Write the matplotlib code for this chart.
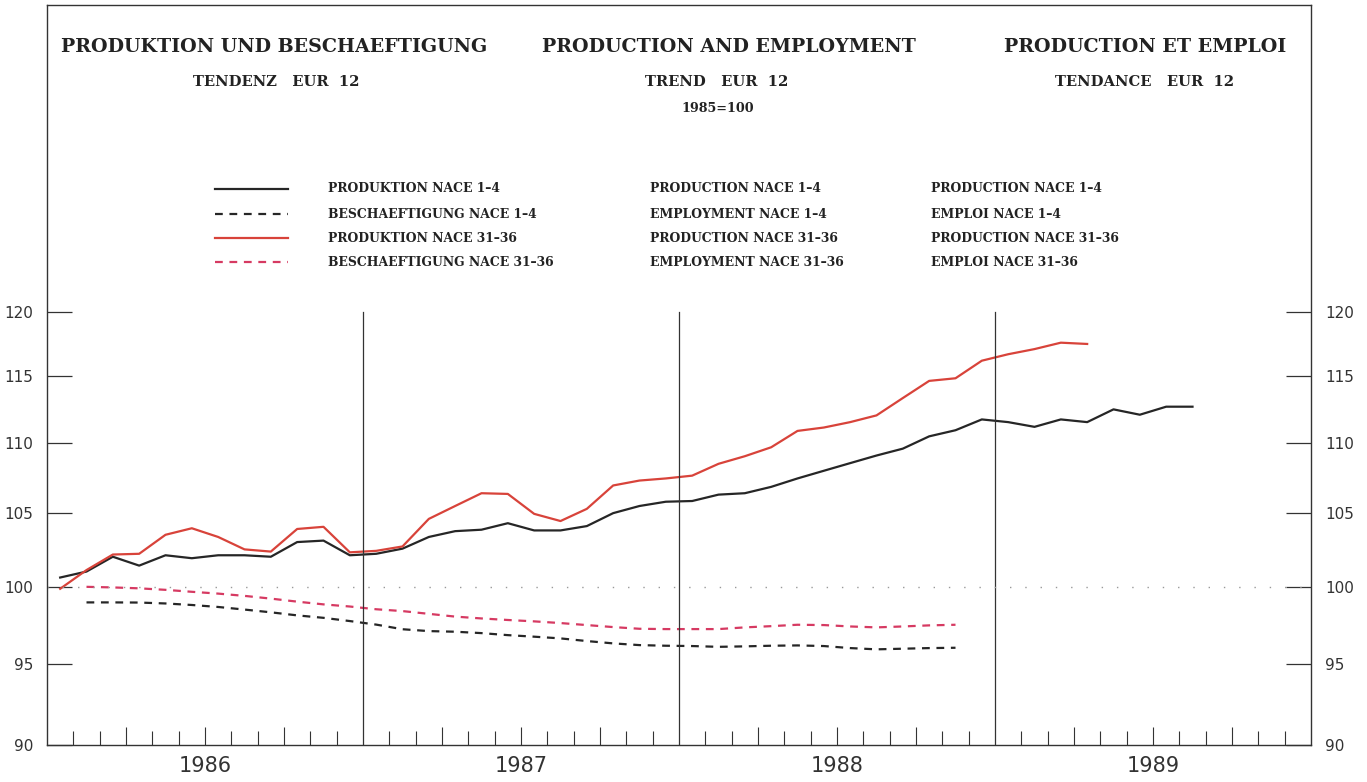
import numpy as np
import matplotlib
matplotlib.use("Agg")
import matplotlib.pyplot as plt
from matplotlib.ticker import FixedLocator, NullLocator

# months counted from Jan 1986 (0) ; values are monthly trend indices 1985=100
years = ["1986", "1987", "1988", "1989"]

prod_1_4_start = 0
prod_1_4 = [100.6, 101.0, 102.0, 101.4, 102.1, 101.9, 102.1, 102.1, 102.0, 103.0, 103.1, 102.1,
            102.2, 102.55, 103.35, 103.75, 103.85, 104.3, 103.8, 103.8, 104.1, 105.0, 105.5, 105.8,
            105.85, 106.3, 106.4, 106.85, 107.45, 108.0, 108.55, 109.1, 109.6, 110.5, 110.95, 111.75,
            111.55, 111.2, 111.75, 111.55, 112.5, 112.1, 112.7, 112.7]

emp_1_4_start = 1
emp_1_4 = [98.95, 98.95, 98.94, 98.88, 98.78, 98.65, 98.48, 98.3, 98.1, 97.94, 97.73,
           97.5, 97.2, 97.08, 97.04, 96.95, 96.82, 96.72, 96.61, 96.44, 96.29, 96.18, 96.14,
           96.12, 96.07, 96.1, 96.14, 96.16, 96.12, 95.99, 95.91, 95.95, 95.99, 96.01]

prod_31_36_start = 0
prod_31_36 = [99.85, 101.1, 102.15, 102.2, 103.5, 103.95, 103.35, 102.5, 102.35, 103.9, 104.05, 102.3,
              102.4, 102.7, 104.6, 105.5, 106.4, 106.35, 104.95, 104.45, 105.3, 106.95, 107.3, 107.45,
              107.65, 108.5, 109.05, 109.7, 110.9, 111.15, 111.55, 112.05, 113.35, 114.65, 114.85, 116.2,
              116.7, 117.1, 117.6, 117.5]

emp_31_36_start = 1
emp_31_36 = [99.98, 99.94, 99.88, 99.78, 99.65, 99.53, 99.38, 99.2, 99.0, 98.82, 98.68,
             98.5, 98.38, 98.2, 98.02, 97.9, 97.8, 97.71, 97.6, 97.47, 97.34, 97.23, 97.21,
             97.21, 97.21, 97.32, 97.4, 97.49, 97.47, 97.38, 97.32, 97.38, 97.45, 97.49]

y_ticks = [90, 95, 100, 105, 110, 115, 120]

legend_de = ["PRODUKTION NACE 1–4", "BESCHAEFTIGUNG NACE 1–4",
             "PRODUKTION NACE 31–36", "BESCHAEFTIGUNG NACE 31–36"]
legend_en = ["PRODUCTION NACE 1–4", "EMPLOYMENT NACE 1–4",
             "PRODUCTION NACE 31–36", "EMPLOYMENT NACE 31–36"]
legend_fr = ["PRODUCTION NACE 1–4", "EMPLOI NACE 1–4",
             "PRODUCTION NACE 31–36", "EMPLOI NACE 31–36"]

BLACK = "#262626"
RED = "#d8433a"
RED_D = "#d63a62"

W, H = 1367, 782
fig = plt.figure(figsize=(W / 100, H / 100), dpi=100)
ax = fig.add_axes([47 / W, 37 / H, 1264 / W, 740 / H])


def months(start, vals):
    return np.arange(start, start + len(vals)) + 0.5


ax.plot(months(prod_1_4_start, prod_1_4), prod_1_4, color=BLACK, lw=1.6)
ax.plot(months(emp_1_4_start, emp_1_4), emp_1_4, color=BLACK, lw=1.6, dashes=(3.5, 3))
ax.plot(months(prod_31_36_start, prod_31_36), prod_31_36, color=RED, lw=1.6)
ax.plot(months(emp_31_36_start, emp_31_36), emp_31_36, color=RED_D, lw=1.6, dashes=(3.5, 3))

ax.set_yscale("log")
ax.set_xlim(0, 48)
ax.set_ylim(90, 147.2)

# year separators and 100 reference line
for yb in (12, 24, 36):
    ax.plot([yb, yb], [90, 120], color="#333333", lw=0.9)
ax.axhline(100, color="#999999", lw=1.0, linestyle=(0, (1, 10)))

ax.yaxis.set_major_locator(FixedLocator(y_ticks))
ax.yaxis.set_minor_locator(NullLocator())
ax.set_yticklabels([str(v) for v in y_ticks])
ax.tick_params(axis="y", which="major", direction="in", length=18, width=0.9,
               left=True, right=True, labelleft=True, labelright=True,
               labelsize=11, pad=10, colors="#333333")

quarters = [m for m in range(3, 48, 3) if m % 12 != 0]
monthly = [m for m in range(1, 48) if m % 3 != 0]
ax.xaxis.set_major_locator(FixedLocator(quarters))
ax.xaxis.set_minor_locator(FixedLocator(monthly))
ax.set_xticklabels([years[(m - 6) // 12] if m % 12 == 6 else "" for m in quarters])
ax.tick_params(axis="x", which="major", direction="in", length=13, width=0.8,
               labelsize=15, pad=8, colors="#333333")
ax.tick_params(axis="x", which="minor", direction="in", length=10, width=0.8, colors="#333333")

for s in ax.spines.values():
    s.set_linewidth(1.0)
    s.set_color("#333333")

# titles
tfont = dict(family="DejaVu Serif", weight="bold", color="#222222", ha="center", va="center")


def ftext(x, y, s, size):
    fig.text(x / W, 1 - y / H, s, fontsize=size, **tfont)


ftext(274, 47, "PRODUKTION UND BESCHAEFTIGUNG", 13.7)
ftext(729, 47, "PRODUCTION AND EMPLOYMENT", 13.7)
ftext(1145, 47, "PRODUCTION ET EMPLOI", 13.7)
ftext(276, 82, "TENDENZ   EUR  12", 10.6)
ftext(717, 82, "TREND   EUR  12", 10.6)
ftext(1145, 82, "TENDANCE   EUR  12", 10.6)
ftext(718, 109, "1985=100", 9.2)

# legend
rows = [189, 214, 238, 262]
styles = [(BLACK, None), (BLACK, (3.5, 3)), (RED, None), (RED_D, (3.5, 3))]
for r, (c, d), de, en, fr in zip(rows, styles, legend_de, legend_en, legend_fr):
    yy = 1 - r / H
    ln = plt.Line2D([215 / W, 288 / W], [yy, yy], transform=fig.transFigure, color=c, lw=1.6)
    if d:
        ln.set_dashes(d)
    fig.add_artist(ln)
    for x0, s in ((328, de), (650, en), (931, fr)):
        fig.text(x0 / W, yy, s, fontsize=8.9, family="DejaVu Serif", weight="bold",
                 color="#222222", ha="left", va="center")

fig.savefig("out.png", dpi=100, facecolor="white")
